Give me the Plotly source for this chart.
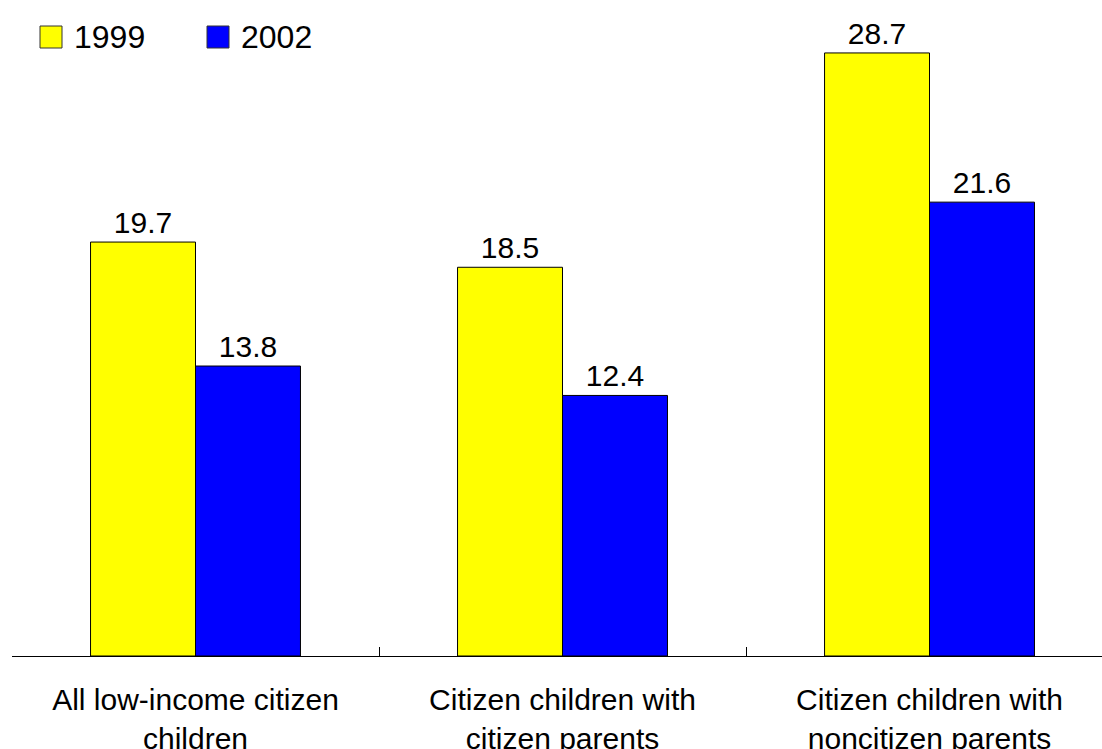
import plotly.graph_objects as go

categories = ["All low-income citizen<br>children",
              "Citizen children with<br>citizen parents",
              "Citizen children with<br>noncitizen parents"]
values_1999 = [19.7, 18.5, 28.7]
values_2002 = [13.8, 12.4, 21.6]
series_names = ["1999", "2002"]
colors = ["#FFFF00", "#0000FF"]

FONT = "Liberation Sans, Arial, sans-serif"
FS = 30

W, H = 1102, 749
ML, MB, MT, MR = 12, 93, 0, 0
PW, PH = W - ML - MR, H - MB - MT

fig = go.Figure()
for name, vals, col in zip(series_names, [values_1999, values_2002], colors):
    fig.add_trace(go.Bar(
        x=categories, y=vals, name=name, showlegend=False,
        marker=dict(color=col, line=dict(color="black", width=1)),
        text=[f"{v:.1f}" for v in vals], textposition="outside",
        textfont=dict(size=FS, color="black", family=FONT),
        cliponaxis=False,
    ))

# custom legend (larger square swatches than plotly's legend allows)
def px_x(p):
    return (p - ML) / PW

def px_y(p):
    return (H - MB - p) / PH

legend_items = [(series_names[0], colors[0], 40, 74),
                (series_names[1], colors[1], 207, 241)]
for name, col, sx, tx in legend_items:
    fig.add_shape(type="rect", xref="paper", yref="paper",
                  x0=px_x(sx), x1=px_x(sx + 22), y0=px_y(48), y1=px_y(26),
                  fillcolor=col, line=dict(color="#333333", width=1))
    fig.add_annotation(xref="paper", yref="paper", x=px_x(tx - 2), y=px_y(37),
                       xanchor="left", yanchor="middle", showarrow=False,
                       text=name, font=dict(size=32, family=FONT, color="black"))

fig.update_layout(
    width=W, height=H,
    margin=dict(l=ML, r=MR, t=MT, b=MB, autoexpand=False),
    paper_bgcolor="white", plot_bgcolor="white",
    font=dict(family=FONT, size=FS, color="black"),
    barmode="group", bargap=0.428, bargroupgap=0,
    showlegend=False,
    xaxis=dict(
        type="category", range=[-0.5, 2.47], automargin=False,
        showline=True, linecolor="black", linewidth=1,
        ticks="inside", tickson="boundaries", ticklen=9,
        tickcolor="black", tickwidth=1,
        showgrid=False, zeroline=False,
        ticklabelstandoff=17,
        tickfont=dict(size=FS, family=FONT, color="black"),
    ),
    yaxis=dict(range=[0, 31.22], visible=False, showgrid=False,
               zeroline=False, automargin=False),
)

fig.write_html(
    "out.html",
    config={"displayModeBar": False},
    post_script=("document.body.style.margin='0';"
                 "document.body.style.overflow='hidden';"
                 "document.documentElement.style.overflow='hidden';"),
)
